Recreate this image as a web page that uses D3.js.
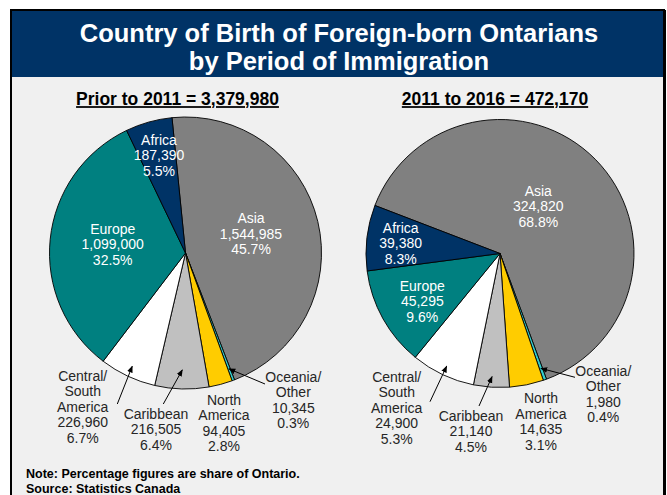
<!DOCTYPE html>
<html>
<head>
<meta charset="utf-8">
<script src="https://cdn.jsdelivr.net/npm/d3@7"></script>
<style>
  body { margin: 0; background: #fff; }
  text { font-family: "Liberation Sans", Arial, sans-serif; }
</style>
</head>
<body>
<div id="chart"></div>
<script>
// Regions in drawing order (clockwise, starting with Asia)
const regions = ["Asia", "Oceania/Other", "North America", "Caribbean", "Central/South America", "Europe", "Africa"];
const regionLines = [["Asia"], ["Oceania/", "Other"], ["North", "America"], ["Caribbean"], ["Central/", "South", "America"], ["Europe"], ["Africa"]];

// Prior to 2011
const countsPrior = [1544985, 10345, 94405, 216505, 226960, 1099000, 187390];
const pctPrior = [45.7, 0.3, 2.8, 6.4, 6.7, 32.5, 5.5];

// 2011 to 2016
const countsRecent = [324820, 1980, 14635, 21140, 24900, 45295, 39380];
const pctRecent = [68.8, 0.4, 3.1, 4.5, 5.3, 9.6, 8.3];
// the right pie in the source isn't drawn to its printed numbers,
// so these are the slice shares as they appear in the picture
const drawnShareRecent = [63.4, 0.4, 4.1, 4.3, 7.7, 12.0, 7.9];

const periodTitles = ["Prior to 2011 = 3,379,980", "2011 to 2016 = 472,170"];

const width = 667, height = 495;

const svg = d3.select("#chart")
  .append("svg")
  .attr("width", width)
  .attr("height", height);

// frame + background
svg.append("rect")
  .attr("x", 11).attr("y", 10)
  .attr("width", 653).attr("height", 500)
  .attr("fill", "#f0f0f0")
  .attr("stroke", "#000")
  .attr("stroke-width", 2);
svg.append("line")
  .attr("x1", 665).attr("x2", 665).attr("y1", 10).attr("y2", height)
  .attr("stroke", "#000").attr("stroke-width", 2);

// title band
svg.append("rect")
  .attr("x", 12).attr("y", 11)
  .attr("width", 651).attr("height", 66)
  .attr("fill", "#003366");

svg.append("text")
  .attr("text-anchor", "middle")
  .attr("fill", "#fff")
  .style("font-size", "25.5px")
  .style("font-weight", "bold")
  .selectAll("tspan")
  .data(["Country of Birth of Foreign-born Ontarians", "by Period of Immigration"])
  .join("tspan")
  .attr("x", 339)
  .attr("y", (d, i) => 33 + i * 28)
  .attr("dy", "0.35em")
  .text(d => d);

const color = d3.scaleOrdinal()
  .domain(regions)
  .range(["#808080", "#33cccc", "#ffcc00", "#c0c0c0", "#ffffff", "#008080", "#003366"]);

const insideLabel = new Set(["Asia", "Europe", "Africa"]);
const arrowed = new Set(["Oceania/Other", "Caribbean", "Central/South America"]);

const fmt = d3.format(",");
const rad = Math.PI / 180;

// layout for the two pies: centre, radius, start angle, label offsets from centre
const pies = [
  {
    cx: 185.5, cy: 253, r: 136, start: -5.7,
    counts: countsPrior, pcts: pctPrior, shares: countsPrior,
    titleX: 177.5,
    labelPos: [[65.5, -34.7], [107.8, 123.7], [38.5, 147], [-29.5, 161], [-102.8, 123], [-72.8, -24.3], [-26.5, -113]],
    tails: { "Oceania/Other": [79.5, 131], "Caribbean": [-22.2, 151], "Central/South America": [-68.2, 151] },
    headR: { "Oceania/Other": 0.91, "Caribbean": 0.86, "Central/South America": 0.92 }
  },
  {
    cx: 500, cy: 253.5, r: 134, start: -69,
    counts: countsRecent, pcts: pctRecent, shares: drawnShareRecent,
    titleX: 495,
    labelPos: [[38.3, -62.5], [103.3, 117.5], [41, 144.8], [-29, 162.5], [-103.3, 123.2], [-77.7, 32.2], [-99.3, -25.8]],
    tails: { "Oceania/Other": [75, 123.8], "Caribbean": [-21, 152.5], "Central/South America": [-70, 148.2] },
    headR: { "Oceania/Other": 0.91, "Caribbean": 0.92, "Central/South America": 0.93 }
  }
];

// arrow marker
svg.append("defs").append("marker")
  .attr("id", "arrow")
  .attr("viewBox", "0 0 10 10")
  .attr("refX", 9).attr("refY", 5)
  .attr("markerWidth", 7).attr("markerHeight", 7)
  .attr("orient", "auto")
  .append("path")
  .attr("d", "M0,1 L10,5 L0,9 z")
  .attr("fill", "#000");

const lineH = 15.5;

pies.forEach((p, k) => {
  const data = regions.map((name, i) => ({
    name, lines: regionLines[i], count: p.counts[i], pct: p.pcts[i], share: p.shares[i], pos: p.labelPos[i]
  }));

  const pie = d3.pie()
    .sort(null)
    .value(d => d.share)
    .startAngle(p.start * rad)
    .endAngle(p.start * rad + 2 * Math.PI);

  const arcs = pie(data);
  const arc = d3.arc().innerRadius(0).outerRadius(p.r);

  const g = svg.append("g").attr("transform", `translate(${p.cx},${p.cy})`);

  g.selectAll("path.slice")
    .data(arcs)
    .join("path")
    .attr("class", "slice")
    .attr("d", arc)
    .attr("fill", d => color(d.data.name))
    .attr("stroke", "#000")
    .attr("stroke-width", 0.9)
    .attr("stroke-linejoin", "round");

  // arrows to the thin slices
  g.selectAll("line.arrow")
    .data(arcs.filter(d => arrowed.has(d.data.name)))
    .join("line")
    .attr("class", "arrow")
    .attr("x1", d => p.tails[d.data.name][0])
    .attr("y1", d => p.tails[d.data.name][1])
    .attr("x2", d => {
      const a = (d.startAngle + d.endAngle) / 2;
      return Math.sin(a) * p.r * p.headR[d.data.name];
    })
    .attr("y2", d => {
      const a = (d.startAngle + d.endAngle) / 2;
      return -Math.cos(a) * p.r * p.headR[d.data.name];
    })
    .attr("stroke", "#000")
    .attr("stroke-width", 1)
    .attr("marker-end", "url(#arrow)");

  const label = g.selectAll("text.lbl")
    .data(arcs)
    .join("text")
    .attr("class", "lbl")
    .attr("text-anchor", "middle")
    .attr("fill", d => insideLabel.has(d.data.name) ? "#fff" : "#262626")
    .style("font-size", "14px");

  label.selectAll("tspan")
    .data(d => d.data.lines.concat([fmt(d.data.count), d.data.pct.toFixed(1) + "%"])
      .map((t, i) => ({ t, i, pos: d.data.pos })))
    .join("tspan")
    .attr("x", d => d.pos[0])
    .attr("y", d => d.pos[1] + d.i * lineH)
    .attr("dy", "0.35em")
    .text(d => d.t);

  // period heading
  svg.append("text")
    .attr("x", p.titleX).attr("y", 99)
    .attr("dy", "0.35em")
    .attr("text-anchor", "middle")
    .attr("fill", "#000")
    .style("font-size", "17.5px")
    .style("font-weight", "bold")
    .style("text-decoration", "underline")
    .text(periodTitles[k]);
});

// notes
svg.append("g")
  .selectAll("text")
  .data(["Note: Percentage figures are share of Ontario.", "Source: Statistics Canada"])
  .join("text")
  .attr("x", 26)
  .attr("y", (d, i) => 474 + i * 15)
  .attr("dy", "0.35em")
  .attr("fill", "#000")
  .style("font-size", "12.5px")
  .style("font-weight", "bold")
  .text(d => d);
</script>
</body>
</html>
